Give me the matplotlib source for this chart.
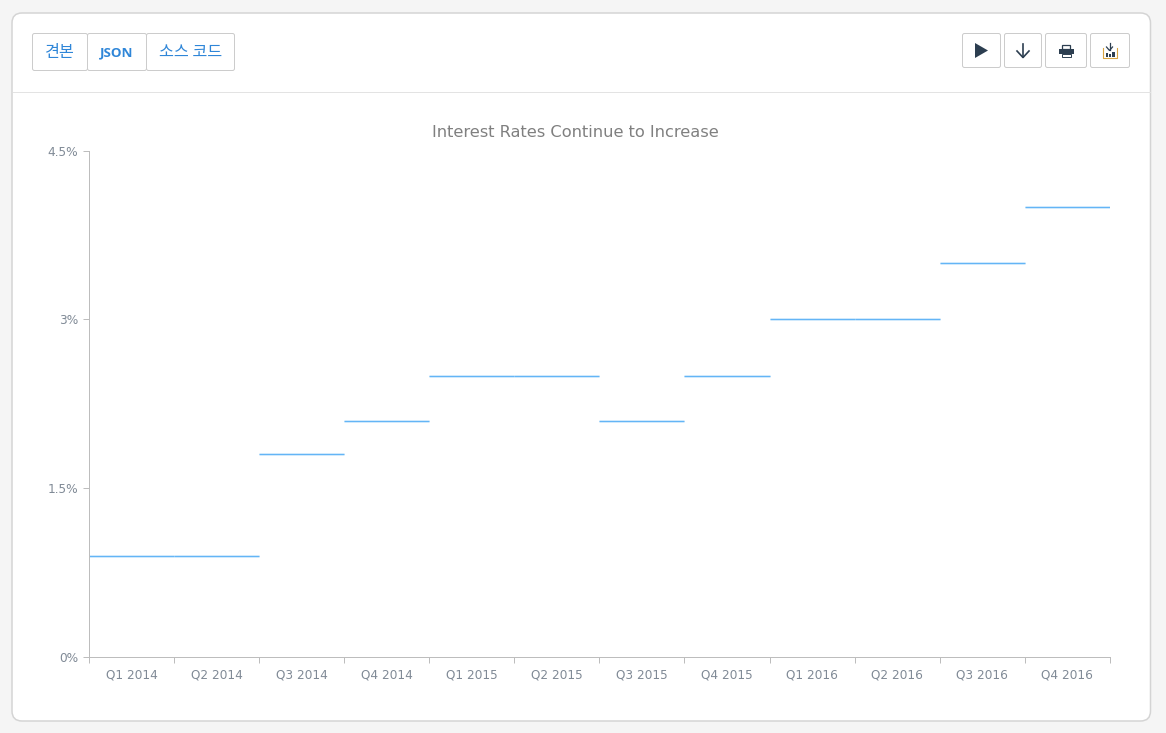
import matplotlib
matplotlib.use("Agg")
import matplotlib.pyplot as plt
from matplotlib.patches import FancyBboxPatch, Rectangle, Polygon

quarters = ["Q1 2014", "Q2 2014", "Q3 2014", "Q4 2014", "Q1 2015", "Q2 2015",
            "Q3 2015", "Q4 2015", "Q1 2016", "Q2 2016", "Q3 2016", "Q4 2016"]
rates = [0.9, 0.9, 1.8, 2.1, 2.5, 2.5, 2.1, 2.5, 3.0, 3.0, 3.5, 4.0]
y_ticks = [0, 1.5, 3, 4.5]
y_labels = ["0%", "1.5%", "3%", "4.5%"]
title = "Interest Rates Continue to Increase"
tabs = ["견본", "JSON", "소스 코드"]

W, H = 1166, 733
PX = 0.72  # one pixel in points
fig = plt.figure(figsize=(W / 100, H / 100), dpi=100, facecolor="#f5f5f5")

# page furniture, in pixel coordinates
ui = fig.add_axes([0, 0, 1, 1], zorder=0)
ui.set_xlim(0, W)
ui.set_ylim(H, 0)
ui.axis("off")


def box(x0, y0, x1, y1, r=2, fc="white", ec="#cccccc", lw=PX, z=2):
    ui.add_patch(FancyBboxPatch((x0, y0), x1 - x0, y1 - y0,
                                boxstyle=f"round,pad=0,rounding_size={r}",
                                fc=fc, ec=ec, lw=lw, zorder=z))


box(12, 13, 1150.5, 721, r=10, ec="#d4d4d4", lw=1.5 * PX, z=1)
ui.plot([12.5, 1150], [91.5, 91.5], color="#e3e3e3", lw=PX, zorder=2)

tab_edges = [(32.5, 87.5), (87.5, 146.5), (146.5, 234.5)]
for (x0, x1), label in zip(tab_edges, tabs):
    box(x0, 33.5, x1, 70.5)
    is_latin = label == "JSON"
    ui.text((x0 + x1) / 2, 52.5, label, ha="center", va="center",
            color="#2f86d8", fontsize=9.6 if is_latin else 11.7,
            fontweight="bold" if is_latin else "medium",
            family=["Open Sans", "DejaVu Sans"] if is_latin
            else ["Noto Sans CJK KR", "DejaVu Sans"], zorder=3)

for x0, x1 in [(962.5, 1000.5), (1004.5, 1041.5), (1045.5, 1086.5), (1090.5, 1129.5)]:
    box(x0, 33.5, x1, 67.5)

dark = "#2c3e50"
# play
ui.add_patch(Polygon([(975, 43), (975, 58), (988, 50.5)], fc=dark, ec="none", zorder=3))
# download arrow
ui.plot([1023, 1023], [44, 57], color=dark, lw=1.2, zorder=3)
ui.plot([1017, 1023, 1029], [51, 57.5, 51], color=dark, lw=1.2, zorder=3)
# printer
ui.add_patch(Rectangle((1062, 45), 8, 4, fc="white", ec=dark, lw=0.9, zorder=3))
ui.add_patch(Rectangle((1058.5, 49), 15, 5, fc=dark, ec="none", zorder=3))
ui.add_patch(Rectangle((1061.5, 54), 9, 3, fc="white", ec=dark, lw=0.7, zorder=3))
# export
ui.plot([1109.5, 1109.5], [43, 50], color=dark, lw=0.9, zorder=3)
ui.plot([1106.5, 1109.5, 1112.5], [47, 50.5, 47], color=dark, lw=0.9, zorder=3)
ui.plot([1103, 1103, 1116.5, 1116.5], [48, 57.5, 57.5, 48], color="#d9a441", lw=0.8, zorder=3)
ui.add_patch(Rectangle((1105.5, 53), 2.5, 4, fc=dark, ec="none", zorder=3))
ui.add_patch(Rectangle((1108.7, 54), 2.5, 3, fc=dark, ec="none", zorder=3))
ui.add_patch(Rectangle((1112, 52), 2.5, 5, fc=dark, ec="none", zorder=3))

# chart
left, right, top, bottom = 89.0, 1109.8, 150.7, 656.7
ax = fig.add_axes([left / W, 1 - bottom / H, (right - left) / W, (bottom - top) / H],
                  zorder=1)
ax.patch.set_alpha(0)
positions = list(range(len(quarters)))
starts = [p - 0.5 for p in positions]
ends = [p + 0.5 for p in positions]
halo = ax.hlines(rates, starts, ends, color="#d6ecfd", lw=3 * PX, zorder=3)
core = ax.hlines(rates, starts, ends, color="#64b5f6", lw=1.1 * PX, zorder=4)
halo.set_snap(True)
core.set_snap(True)
ax.set_xlim(-0.5, len(quarters) - 0.5)
ax.set_ylim(0, 4.5)

ax.set_yticks(y_ticks)
ax.set_yticklabels(y_labels)
ax.set_xticks([p - 0.5 for p in positions] + [len(quarters) - 0.5])
ax.set_xticklabels([])
ax.set_xticks(positions, minor=True)
ax.set_xticklabels(quarters, minor=True)
for side in ("top", "right"):
    ax.spines[side].set_visible(False)
for side in ("left", "bottom"):
    ax.spines[side].set_color("#bdbdbd")
    ax.spines[side].set_linewidth(PX)
    ax.spines[side].set_zorder(5)
ax.tick_params(axis="x", which="major", length=6 * PX, color="#bdbdbd", width=PX)
ax.tick_params(axis="x", which="minor", length=0, pad=10 * PX + 1, labelsize=8.7, labelcolor="#808a96")
ax.tick_params(axis="y", length=6 * PX, color="#bdbdbd", width=PX, pad=5 * PX,
               labelsize=8.7, labelcolor="#808a96")
fig.text(575.5 / W, 1 - 132.5 / H, title, ha="center", va="center",
         fontsize=11.7, color="#808080")

fig.savefig("out.png", dpi=100, facecolor=fig.get_facecolor())
